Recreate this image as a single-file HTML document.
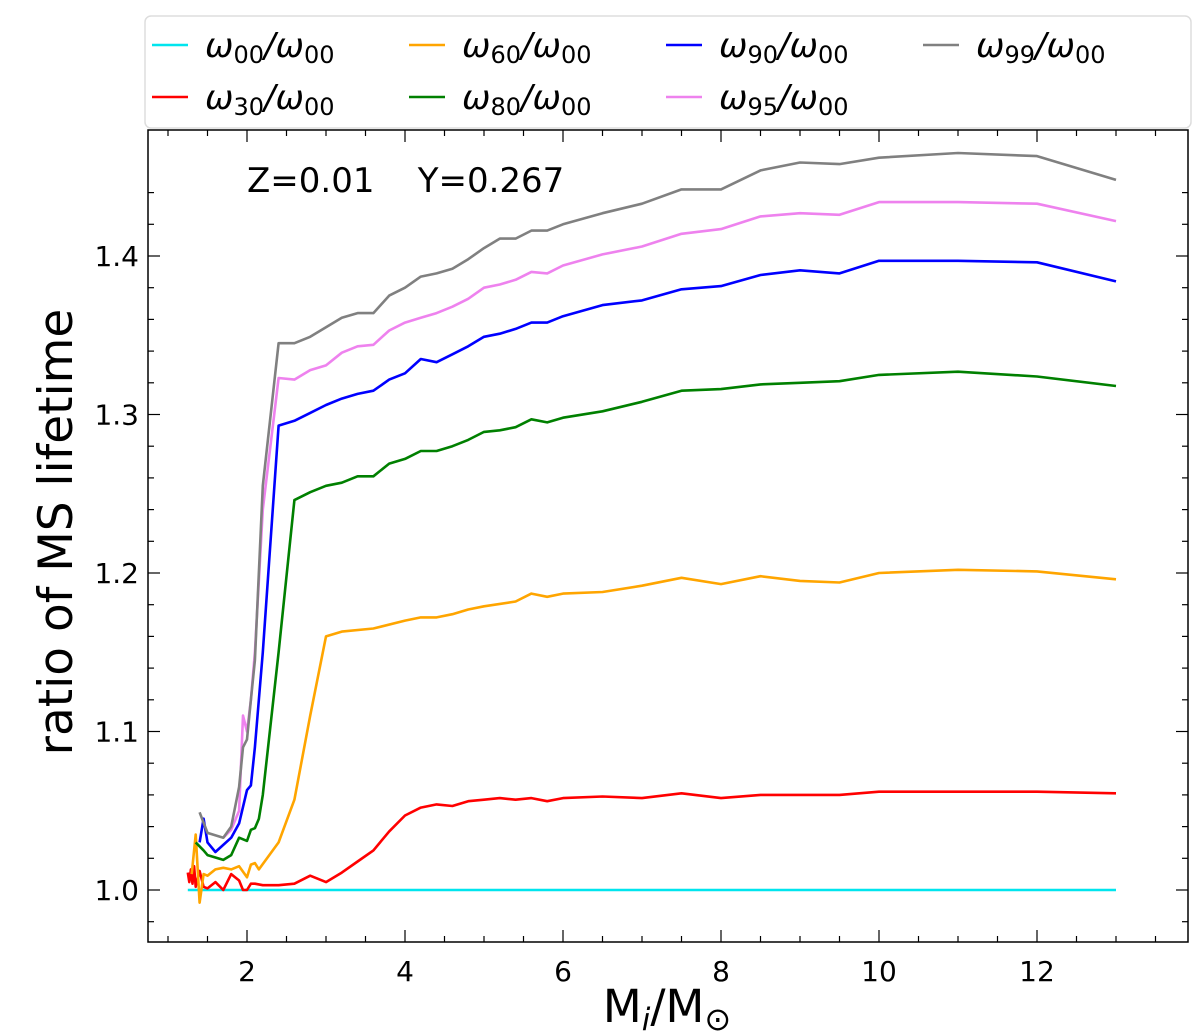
<!DOCTYPE html>
<html><head><meta charset="utf-8"><style>
body{margin:0;background:#fff}
svg{display:block;font-family:"DejaVu Sans","Liberation Sans",sans-serif}
</style></head><body>
<svg id="chart" width="1200" height="1032" viewBox="0 0 1200 1032">
<g id="grid"></g><g id="series"></g><g id="axes"></g><g id="legend"></g>
<text x="247" y="192" font-size="34" xml:space="preserve">Z=0.01    Y=0.267</text>
<text transform="translate(72,532) rotate(-90)" text-anchor="middle" font-size="47">ratio of MS lifetime</text>
<text x="667" y="1022" text-anchor="middle" font-size="45">M<tspan font-size="31" dy="8" font-style="italic">i</tspan><tspan dy="-8">/M</tspan><tspan font-size="32" dy="8">⊙</tspan></text>
</svg>
<script>
const seriesNames=["w00","w30","w60","w80","w90","w95","w99"];
const seriesColors=["#00e5ee","red","orange","green","blue","violet","gray"];
const w00Mass=[1.25,13];
const w00Ratio=[1.0,1.0];
const w30Mass=[1.25,1.27,1.29,1.31,1.33,1.35,1.4,1.45,1.5,1.6,1.7,1.8,1.9,1.95,2.0,2.05,2.1,2.2,2.4,2.6,2.8,3.0,3.2,3.4,3.6,3.8,4,4.2,4.4,4.6,4.8,5,5.2,5.4,5.6,5.8,6,6.5,7,7.5,8,8.5,9,9.5,10,11,12,13];
const w30Ratio=[1.011,1.005,1.013,1.004,1.015,1.002,1.012,1.002,1.001,1.005,1.0,1.010,1.006,1.0,1.0,1.004,1.004,1.003,1.003,1.004,1.009,1.005,1.011,1.018,1.025,1.037,1.047,1.052,1.054,1.053,1.056,1.057,1.058,1.057,1.058,1.056,1.058,1.059,1.058,1.061,1.058,1.060,1.060,1.060,1.062,1.062,1.062,1.061];
const w60Mass=[1.3,1.35,1.4,1.45,1.5,1.6,1.7,1.8,1.9,2.0,2.05,2.1,2.15,2.4,2.6,2.8,3.0,3.2,3.6,4,4.2,4.4,4.6,4.8,5,5.4,5.6,5.8,6,6.5,7,7.5,8,8.5,9,9.5,10,11,12,13];
const w60Ratio=[1.01,1.035,0.992,1.01,1.009,1.013,1.014,1.013,1.015,1.008,1.016,1.017,1.013,1.03,1.057,1.11,1.16,1.163,1.165,1.170,1.172,1.172,1.174,1.177,1.179,1.182,1.187,1.185,1.187,1.188,1.192,1.197,1.193,1.198,1.195,1.194,1.200,1.202,1.201,1.196];
const w80Mass=[1.35,1.45,1.5,1.7,1.8,1.9,2.0,2.05,2.1,2.15,2.2,2.4,2.6,2.8,3,3.2,3.4,3.6,3.8,4,4.2,4.4,4.6,4.8,5,5.2,5.4,5.6,5.8,6,6.5,7,7.5,8,8.5,9,9.5,10,11,12,13];
const w80Ratio=[1.03,1.025,1.022,1.019,1.022,1.033,1.031,1.038,1.039,1.045,1.06,1.15,1.246,1.251,1.255,1.257,1.261,1.261,1.269,1.272,1.277,1.277,1.280,1.284,1.289,1.290,1.292,1.297,1.295,1.298,1.302,1.308,1.315,1.316,1.319,1.320,1.321,1.325,1.327,1.324,1.318];
const w90Mass=[1.4,1.45,1.5,1.6,1.8,1.9,2.0,2.05,2.1,2.2,2.4,2.6,2.8,3,3.2,3.4,3.6,3.8,4,4.2,4.4,4.6,4.8,5,5.2,5.4,5.6,5.8,6,6.5,7,7.5,8,8.5,9,9.5,10,11,12,13];
const w90Ratio=[1.03,1.045,1.03,1.024,1.033,1.042,1.063,1.066,1.09,1.15,1.293,1.296,1.301,1.306,1.310,1.313,1.315,1.322,1.326,1.335,1.333,1.338,1.343,1.349,1.351,1.354,1.358,1.358,1.362,1.369,1.372,1.379,1.381,1.388,1.391,1.389,1.397,1.397,1.396,1.384];
const w95Mass=[1.7,1.8,1.9,1.95,2.0,2.05,2.1,2.2,2.4,2.6,2.8,3,3.2,3.4,3.6,3.8,4,4.2,4.4,4.6,4.8,5,5.2,5.4,5.6,5.8,6,6.5,7,7.5,8,8.5,9,9.5,10,11,12,13];
const w95Ratio=[1.033,1.038,1.05,1.11,1.10,1.12,1.15,1.24,1.323,1.322,1.328,1.331,1.339,1.343,1.344,1.353,1.358,1.361,1.364,1.368,1.373,1.380,1.382,1.385,1.390,1.389,1.394,1.401,1.406,1.414,1.417,1.425,1.427,1.426,1.434,1.434,1.433,1.422];
const w99Mass=[1.4,1.5,1.7,1.8,1.9,1.95,2.0,2.05,2.1,2.2,2.4,2.6,2.8,3.0,3.2,3.4,3.6,3.8,4.0,4.2,4.4,4.6,4.8,5.0,5.2,5.4,5.6,5.8,6.0,6.5,7,7.5,8,8.5,9,9.5,10,11,12,13];
const w99Ratio=[1.049,1.036,1.033,1.04,1.065,1.09,1.095,1.12,1.145,1.255,1.345,1.345,1.349,1.355,1.361,1.364,1.364,1.375,1.380,1.387,1.389,1.392,1.398,1.405,1.411,1.411,1.416,1.416,1.420,1.427,1.433,1.442,1.442,1.454,1.459,1.458,1.462,1.465,1.463,1.448];
const xTicks=[2,4,6,8,10,12];
const yTicks=[1.0,1.1,1.2,1.3,1.4];
const legendLabels=["00","30","60","80","90","95","99"];

const L=148,R=1188,T=130,B=942;
const X=m=>89+79*m;
const Y=r=>890-1585*(r-1);
const NS="http://www.w3.org/2000/svg";
function mk(tag,attrs,parent){const e=document.createElementNS(NS,tag);for(const k in attrs)e.setAttribute(k,attrs[k]);parent.appendChild(e);return e;}
const sg=document.getElementById('series'),ag=document.getElementById('axes'),lg=document.getElementById('legend');
const data=[[w00Mass,w00Ratio],[w30Mass,w30Ratio],[w60Mass,w60Ratio],[w80Mass,w80Ratio],[w90Mass,w90Ratio],[w95Mass,w95Ratio],[w99Mass,w99Ratio]];
data.forEach((d,i)=>{
  const pts=d[0].map((m,j)=>X(m).toFixed(1)+','+Y(d[1][j]).toFixed(1)).join(' ');
  const p=mk('polyline',{points:pts,fill:'none',stroke:seriesColors[i],'stroke-width':2.6,'stroke-linejoin':'round'},sg);
  
  
});
const frame=mk('rect',{x:L,y:T,width:R-L,height:B-T,fill:'none',stroke:'#000','stroke-width':1.5},ag);


for(let m=1;m<=13.5;m+=0.5){
  const x=X(m),maj=m%2===0,len=maj?12:6;
  mk('line',{x1:x,x2:x,y1:B,y2:B-len,stroke:'#000','stroke-width':1.2},ag);
  mk('line',{x1:x,x2:x,y1:T,y2:T+len,stroke:'#000','stroke-width':1.2},ag);
}
for(let k=-2;k<=24;k++){
  const r=0.96+k*0.02;const y=Y(r);if(y<T||y>B)continue;
  const maj=Math.abs((r*10)-Math.round(r*10))<1e-6,len=maj?12:6;
  mk('line',{x1:L,x2:L+len,y1:y,y2:y,stroke:'#000','stroke-width':1.2},ag);
  mk('line',{x1:R,x2:R-len,y1:y,y2:y,stroke:'#000','stroke-width':1.2},ag);
}
xTicks.forEach(v=>{const t=mk('text',{x:X(v),y:981,'font-size':28,'text-anchor':'middle'},ag);t.textContent=v;
  
  });
yTicks.forEach(v=>{const t=mk('text',{x:139,y:Y(v)+10,'font-size':28,'text-anchor':'end'},ag);t.textContent=v.toFixed(1);
  
  });
const box=mk('rect',{x:145,y:16,width:1046,height:112,rx:6,fill:'#fff',stroke:'#ddd','stroke-width':1.5},lg);


const pos=[[0,0],[0,1],[1,0],[1,1],[2,0],[2,1],[3,0]];
[0,1,2,3,4,5,6].forEach((i,k)=>{
  const cx=150+pos[k][0]*257,cy=pos[k][1]?97:45;
  const g=mk('g',{},lg);
  
  
  mk('line',{x1:cx+2,x2:cx+38,y1:cy,y2:cy,stroke:seriesColors[i],'stroke-width':2.6},g);
  const t=mk('text',{x:cx+55,y:cy+12,'font-size':34,'font-style':'italic'},g);
  t.innerHTML='ω<tspan font-style="normal" font-size="24" dy="6">'+legendLabels[i]+'</tspan><tspan dy="-6">/ω</tspan><tspan font-style="normal" font-size="24" dy="6">00</tspan>';
});
</script>
</body></html>
